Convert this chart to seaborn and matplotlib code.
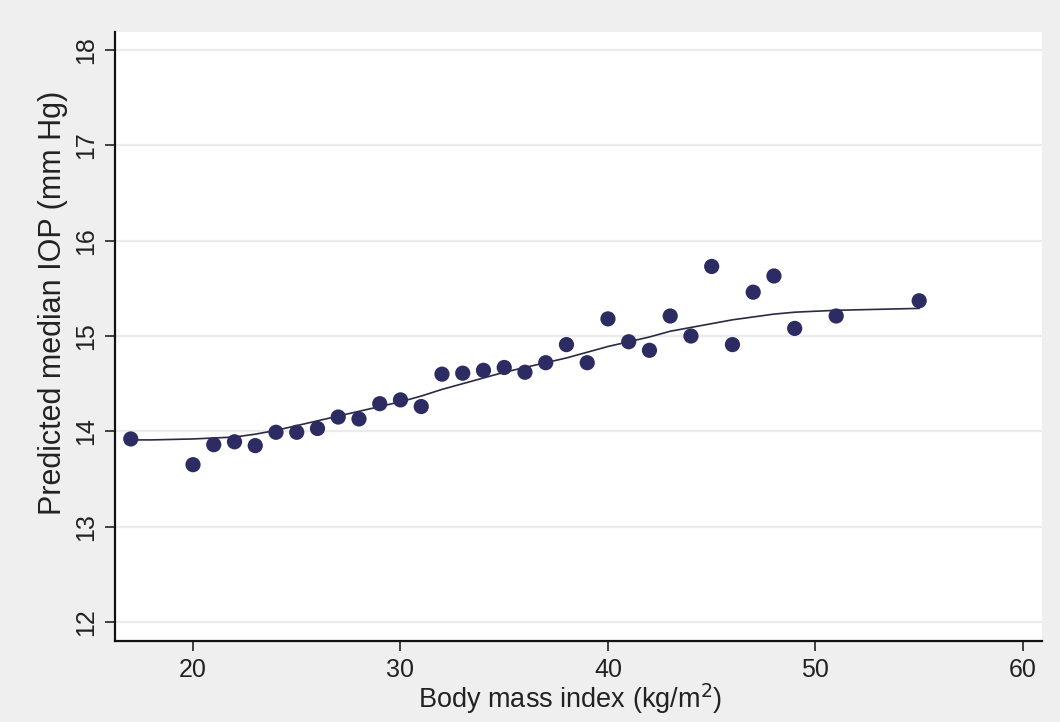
import matplotlib
matplotlib.use('Agg')
import matplotlib.pyplot as plt
import seaborn as sns

# observed predicted median IOP per BMI value
bmi = [17, 20, 21, 22, 23, 24, 25, 26, 27, 28, 29, 30, 31, 32, 33, 34, 35, 36,
       37, 38, 39, 40, 41, 42, 43, 44, 45, 46, 47, 48, 49, 51, 55]
iop = [13.92, 13.65, 13.86, 13.89, 13.85, 13.99, 13.99, 14.03, 14.15, 14.13,
       14.29, 14.33, 14.26, 14.60, 14.61, 14.64, 14.67, 14.62, 14.72, 14.91,
       14.72, 15.18, 14.94, 14.85, 15.21, 15.00, 15.73, 14.91, 15.46, 15.63,
       15.08, 15.21, 15.37]

# smoothed curve
fit_bmi = [17, 18, 20, 21, 22, 23, 24, 25, 26, 27, 28, 29, 30, 31, 32, 33, 34,
           35, 36, 37, 38, 39, 40, 41, 42, 43, 44, 45, 46, 47, 48, 49, 51, 55]
fit_iop = [13.91, 13.91, 13.92, 13.93, 13.94, 13.97, 14.01, 14.06, 14.11,
           14.16, 14.21, 14.26, 14.31, 14.37, 14.44, 14.50, 14.56, 14.62,
           14.67, 14.72, 14.77, 14.83, 14.89, 14.94, 14.99, 15.05, 15.09,
           15.13, 15.17, 15.20, 15.23, 15.25, 15.27, 15.29]

x_ticks = [20, 30, 40, 50, 60]
y_ticks = [12, 13, 14, 15, 16, 17, 18]

sns.set_style('ticks')
plt.rcParams['font.family'] = ['Liberation Sans', 'DejaVu Sans']

fig = plt.figure(figsize=(10.6, 7.22), dpi=100, facecolor='#efefef')
ax = fig.add_axes([115 / 1060, 81 / 722, 927 / 1060, 609 / 722])
ax.set_facecolor('white')

for yv in y_ticks:
    ax.axhline(yv, color='#ebebeb', lw=1.6, zorder=0)

sns.lineplot(x=fit_bmi, y=fit_iop, ax=ax, color='#2a2a44', lw=1.2, zorder=2)
sns.scatterplot(x=bmi, y=iop, ax=ax, color='#2c2c63', s=120, edgecolor='none',
                zorder=3)

ax.set_xlim(16.24, 60.92)
ax.set_ylim(11.80, 18.19)
ax.set_xticks(x_ticks)
ax.set_yticks(y_ticks)
ax.tick_params(axis='both', labelsize=18, length=7, width=1.2, color='#222222',
               labelcolor='#222222', pad=5)
plt.setp(ax.get_yticklabels(), rotation=90, va='center')

ax.set_xlabel('Body mass index (kg/m$^2$)', fontsize=19.5, color='#222222')
ax.xaxis.set_label_coords(0.491, -0.066)
ax.set_ylabel('Predicted median IOP (mm Hg)', fontsize=22, color='#222222')
ax.yaxis.set_label_coords(-0.051, 0.555)

for side in ['top', 'right']:
    ax.spines[side].set_visible(False)
for side in ['left', 'bottom']:
    ax.spines[side].set_linewidth(1.6)
    ax.spines[side].set_color('#111111')

fig.savefig('out.png', dpi=100, facecolor=fig.get_facecolor())
